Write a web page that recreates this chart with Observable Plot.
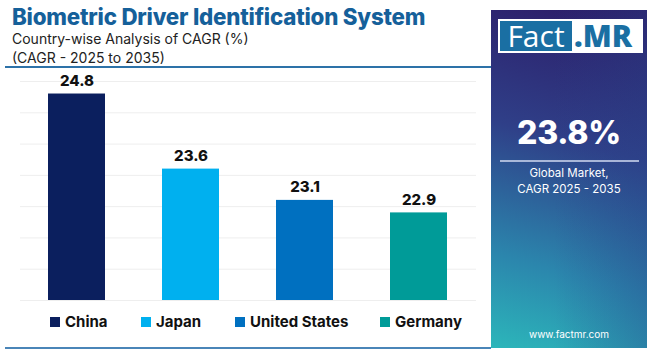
<!DOCTYPE html>
<html>
<head>
<meta charset="utf-8">
<script src="https://cdn.jsdelivr.net/npm/d3@7"></script>
<script src="https://cdn.jsdelivr.net/npm/@observablehq/plot@0.6"></script>
<style>
  html, body { margin: 0; padding: 0; background: #fff; }
  #wrap { position: relative; width: 650px; height: 350px; overflow: hidden; background: #fff; font-family: Inter, "Open Sans", sans-serif; }
  #title { position: absolute; left: 12px; top: 3px; font-size: 22.3px; font-weight: 800; color: #15609a; letter-spacing: -0.2px; white-space: nowrap; }
  #sub { position: absolute; left: 12px; top: 29px; font-size: 14px; line-height: 19px; color: #222; }
  #hline { position: absolute; left: 5px; top: 66px; width: 486px; height: 2px; background: #2d72a8; }
  #bline { position: absolute; left: 5px; top: 347px; width: 486px; height: 2px; background: #4a85b8; }
  #chart { position: absolute; left: 0; top: 70px; }
  #legend { position: absolute; top: 312px; left: 0; width: 491px; height: 20px; font-size: 15px; font-weight: 700; color: #111; }
  .li { position: absolute; top: 0; display: flex; align-items: center; white-space: nowrap; }
  .sw { width: 10px; height: 10px; margin-right: 5px; }
  #panel { position: absolute; left: 491px; top: 10px; width: 156px; height: 338px;
    background: linear-gradient(195deg, #2c1a66 0%, #2f3f88 40%, #2b86ad 75%, #2cb6ba 100%); }
  #panel2 { position: absolute; inset: 0; background: linear-gradient(90deg, rgba(0,0,0,0) 40%, rgba(40,70,140,0.35) 100%); }
  #logo { position: absolute; left: 7px; top: 9px; width: 145px; height: 34px; background: #fff; }
  #fact { position: absolute; left: 2px; top: 2px; width: 72px; height: 30px; background: #1a6fa3; color: #fff; font-family: "Open Sans", sans-serif; font-size: 30px; line-height: 30px; text-align: center; }
  #mr { position: absolute; left: 76px; top: 1px; color: #1a6fa3; font-size: 30px; line-height: 32px; font-weight: 800; font-family: "Open Sans", sans-serif; }
  #big { position: absolute; left: 0; width: 156px; top: 103px; text-align: center; color: #fff; font-size: 32px; font-weight: 800; letter-spacing: -0.3px; }
  #pline { position: absolute; left: 9px; top: 150px; width: 139px; height: 2px; background: rgba(200,210,235,0.8); }
  #glob { position: absolute; left: 0; width: 156px; top: 155px; text-align: center; color: #fff; font-size: 11.5px; line-height: 16px; }
  #www { position: absolute; left: 0; width: 156px; top: 318px; text-align: center; color: #fff; font-size: 10px; }
</style>
</head>
<body>
<div id="wrap">
  <div id="title">Biometric Driver Identification System</div>
  <div id="sub">Country-wise Analysis of CAGR (%)<br>(CAGR - 2025 to 2035)</div>
  <div id="hline"></div>
  <div id="chart"></div>
  <div id="legend"></div>
  <div id="bline"></div>
  <div id="panel">
    <div id="panel2"></div>
    <div id="logo"><div id="fact">Fact</div><div id="mr">.MR</div></div>
    <div id="big">23.8%</div>
    <div id="pline"></div>
    <div id="glob">Global Market,<br>CAGR 2025 - 2035</div>
    <div id="www">www.factmr.com</div>
  </div>
</div>
<script>
const countries = ["China", "Japan", "United States", "Germany"];
const cagr = [24.8, 23.6, 23.1, 22.9];
const colors = ["#0b1f5e", "#00b0ef", "#0070c0", "#009b98"];
const yTicks = [21.5, 22, 22.5, 23, 23.5, 24, 24.5, 25];

const data = countries.map((c, i) => ({country: c, value: cagr[i]}));

const plot = Plot.plot({
  width: 491,
  height: 240,
  marginTop: 11,
  marginBottom: 10,
  marginLeft: 20,
  marginRight: 15,
  x: {domain: countries, range: [18, 477], paddingInner: 0.5, paddingOuter: 0.25, axis: null},
  y: {domain: [21.5, 25], axis: null},
  color: {domain: countries, range: colors},
  style: {fontFamily: "Inter, 'Open Sans', sans-serif", background: "transparent"},
  marks: [
    Plot.ruleY(yTicks, {stroke: "#eeeeee", strokeWidth: 1}),
    Plot.barY(data, {x: "country", y1: 21.5, y2: "value", fill: "country"}),
    Plot.text(data, {x: "country", y: "value", text: d => d.value.toFixed(1), dy: -13, fontSize: 15, fontWeight: 800, fill: "#111"})
  ]
});
document.getElementById("chart").appendChild(plot);

const legend = document.getElementById("legend");
const legX = [50, 141, 235, 380];
countries.forEach((c, i) => {
  const el = document.createElement("div");
  el.className = "li";
  el.style.left = legX[i] + "px";
  el.innerHTML = `<span class="sw" style="background:${colors[i]}"></span><span>${c}</span>`;
  legend.appendChild(el);
});
</script>
</body>
</html>
